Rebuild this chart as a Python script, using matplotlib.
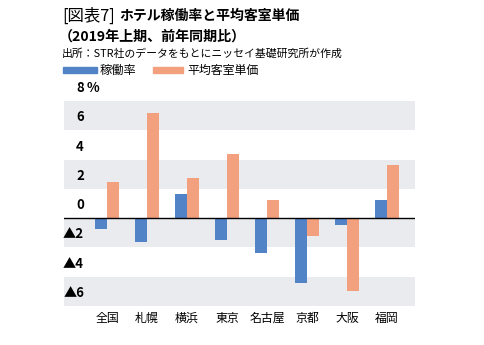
import matplotlib
matplotlib.use("Agg")
import matplotlib.pyplot as plt
import matplotlib.transforms as mtransforms
import numpy as np

plt.rcParams['font.family'] = ['Noto Sans CJK JP', 'DejaVu Sans']

categories = ["全国", "札幌", "横浜", "東京", "名古屋", "京都", "大阪", "福岡"]
occupancy = [-0.75, -1.65, 1.65, -1.5, -2.4, -4.4, -0.45, 1.25]
adr = [2.45, 7.2, 2.75, 4.35, 1.25, -1.2, -4.95, 3.65]
ytick_vals = [8, 6, 4, 2, 0, -2, -4, -6]
ytick_labels = ["8", "6", "4", "2", "0", "▲2", "▲4", "▲6"]

blue = "#5283c6"
orange = "#f2a07e"
band = "#e9ebee"

W, H = 484, 345
fig = plt.figure(figsize=(W / 100, H / 100), dpi=100)
ax = fig.add_axes([64 / W, 1 - 306 / H, (415 - 64) / W, (306 - 101) / H])

x = np.arange(len(categories))
bw = 0.3
ax.bar(x - bw / 2, occupancy, width=bw, color=blue, zorder=3)
ax.bar(x + bw / 2, adr, width=bw, color=orange, zorder=3)

ax.set_xlim(-1.075, 7.7)
ax.set_ylim(-6, 8)
for lo, hi in [(6, 8), (2, 4), (-2, 0), (-6, -4)]:
    ax.axhspan(lo, hi, color=band, lw=0, zorder=0)
ax.axhline(0, color="black", lw=1.0, zorder=4)

for s in ax.spines.values():
    s.set_visible(False)
ax.set_yticks([])
ax.set_xticks(x)
ax.set_xticklabels(categories, fontsize=8.6)
ax.tick_params(axis="x", length=0, pad=4)

# y labels, placed slightly above their gridlines
trans = mtransforms.blended_transform_factory(fig.transFigure, ax.transData)
off = mtransforms.offset_copy(trans, fig=fig, x=0, y=6, units="dots")
for v, lab in zip(ytick_vals, ytick_labels):
    ax.text(84 / W, v, lab, transform=off, ha="right", va="bottom",
            fontsize=9.5, fontweight="bold")
ax.text(87 / W, 8, "%", transform=off, ha="left", va="bottom",
        fontsize=9.5, fontweight="bold")

# titles
fig.text(62 / W, 1 - 16 / H, "[図表7]", fontsize=11.8, va="center", ha="left")
fig.text(119 / W, 1 - 16 / H, "ホテル稼働率と平均客室単価", fontsize=10,
         va="center", ha="left", fontweight="bold")
fig.text(59 / W, 1 - 37 / H, "（2019年上期、前年同期比）", fontsize=10.1,
         va="center", ha="left", fontweight="bold")
fig.text(62 / W, 1 - 54 / H, "出所：STR社のデータをもとにニッセイ基礎研究所が作成",
         fontsize=7.8, va="center", ha="left")

# legend
fig.patches.append(plt.Rectangle((63 / W, 1 - 73 / H), 34 / W, 6 / H,
                                 transform=fig.transFigure, color=blue))
fig.text(100 / W, 1 - 70 / H, "稼働率", fontsize=8.8, va="center", ha="left")
fig.patches.append(plt.Rectangle((153 / W, 1 - 73 / H), 30 / W, 6 / H,
                                 transform=fig.transFigure, color=orange))
fig.text(187 / W, 1 - 70 / H, "平均客室単価", fontsize=8.6, va="center", ha="left")

fig.savefig("out.png", dpi=100)
